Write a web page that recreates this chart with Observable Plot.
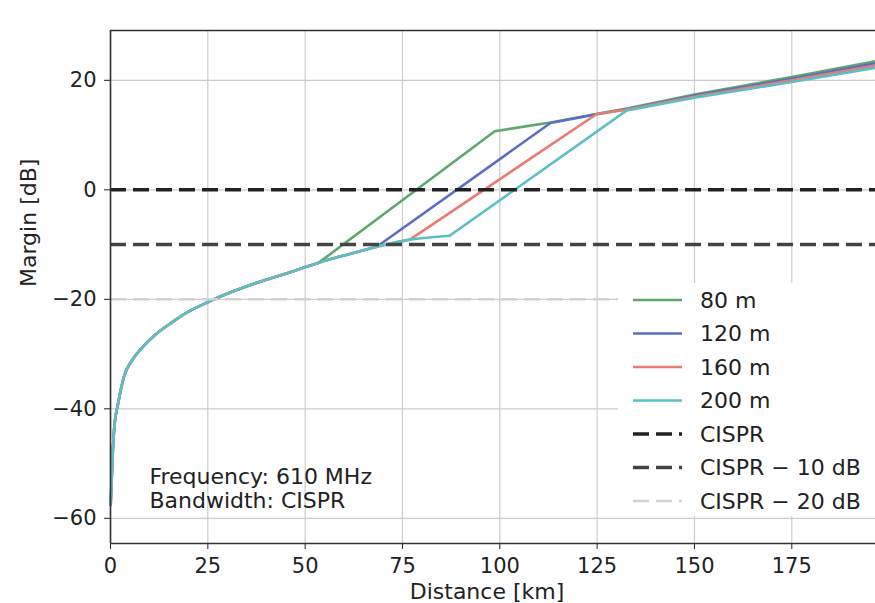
<!DOCTYPE html>
<html>
<head>
<meta charset="utf-8">
<script src="https://cdn.jsdelivr.net/npm/d3@7"></script>
<script src="https://cdn.jsdelivr.net/npm/@observablehq/plot@0.6"></script>
<style>
  body { margin: 0; background: #fff; font-family: "DejaVu Sans", sans-serif; }
  #wrap { position: relative; width: 875px; height: 603px; overflow: hidden; background: #fff; }
  #legend { position: absolute; left: 618px; top: 283px; }
</style>
</head>
<body>
<div id="wrap"></div>
<script>
// ---- data ----
const xTicks = [0, 25, 50, 75, 100, 125, 150, 175];
const yTicks = [-60, -40, -20, 0, 20];

// common lower curve (all heights follow it until they depart)
const lowDist   = [0.05, 0.18, 0.59, 1.03, 1.88, 3.6, 5.3, 7.9, 11.3, 15.6, 19.9, 24.2, 28.5, 35, 41, 46.8, 53.5, 61, 68.4, 76.9, 82, 87.1];
const lowMargin = [-57.5, -55, -47.8, -42.9, -39.3, -33.8, -31.4, -29.0, -26.6, -24.3, -22.3, -20.8, -19.4, -17.6, -16.2, -14.9, -13.3, -11.8, -10.4, -9.1, -8.7, -8.4];

// distance at which each height leaves the common curve
const heights   = ["80 m", "120 m", "160 m", "200 m"];
const departAt  = [53.5, 68.4, 76.9, 87.1];

// upper parts of each curve
const up80Dist  = [98.7, 113, 125, 133, 150, 175, 196.5];
const up80      = [10.7, 12.3, 13.9, 14.9, 17.4, 20.6, 23.5];
const up120Dist = [113, 125, 133, 150, 175, 196.5];
const up120     = [12.2, 13.8, 14.8, 17.2, 20.3, 23.1];
const up160Dist = [124.9, 133, 150, 175, 196.5];
const up160     = [13.85, 14.7, 17.0, 20.0, 22.7];
const up200Dist = [132.6, 150, 175, 196.5];
const up200     = [14.5, 16.8, 19.7, 22.3];

const cisprLevels = [0, -10, -20];
const cisprLabels = ["CISPR", "CISPR \u2212 10 dB", "CISPR \u2212 20 dB"];
const seriesColors = ["#5ea86c", "#5b6fc2", "#e77d72", "#5bbfc6"];
const cisprColors  = ["#222222", "#444444", "#d2d2d2"];

// ---- build rows ----
const upDists = [up80Dist, up120Dist, up160Dist, up200Dist];
const upVals  = [up80, up120, up160, up200];
const lowerParts = heights.map((h, i) =>
  lowDist.map((d, j) => ({d, m: lowMargin[j]})).filter(r => r.d <= departAt[i]));
const upperParts = heights.map((h, i) => {
  const start = lowerParts[i][lowerParts[i].length - 1];
  return [start, ...upDists[i].map((d, j) => ({d, m: upVals[i][j]}))];
});

const yMin = -64.6, yMax = 29.1;
const FS = 22;

const seriesMarks = [];
heights.forEach((h, i) => {
  seriesMarks.push(Plot.line(lowerParts[i], {x: "d", y: "m", stroke: seriesColors[i], strokeWidth: 2.6, curve: "monotone-x"}));
  seriesMarks.push(Plot.line(upperParts[i], {x: "d", y: "m", stroke: seriesColors[i], strokeWidth: 2.6}));
});

const chart = Plot.plot({
  width: 875, height: 603,
  marginLeft: 110, marginRight: 0, marginTop: 30, marginBottom: 60,
  x: {domain: [0, 196.5]},
  y: {domain: [yMin, yMax]},
  style: {fontFamily: "DejaVu Sans", fontSize: "21px", color: "#222", background: "#fff", overflow: "visible"},
  marks: [
    Plot.gridX(xTicks, {stroke: "#cccccc", strokeOpacity: 1, strokeWidth: 1.2}),
    Plot.gridY(yTicks, {stroke: "#cccccc", strokeOpacity: 1, strokeWidth: 1.2}),
    ...seriesMarks,
    ...cisprLevels.map((v, i) => Plot.ruleY([v], {
      stroke: cisprColors[i], strokeWidth: i === 2 ? 2.5 : 3.5, strokeDasharray: "16,7"
    })),
    Plot.axisX(xTicks, {tickSize: 6, tickPadding: 9, label: null, fontSize: 21}),
    Plot.axisY(yTicks, {tickSize: 6, tickPadding: 8, label: null, fontSize: 21}),
    Plot.ruleX([0], {stroke: "#333", strokeWidth: 1.6}),
    Plot.ruleY([yMin, yMax], {stroke: "#333", strokeWidth: 1.6}),
    Plot.text(["Frequency: 610 MHz\nBandwidth: CISPR"], {
      x: 10, y: -54.5, textAnchor: "start", lineAnchor: "middle", fontSize: FS, lineHeight: 1.1, fill: "#222"
    }),
    Plot.text(["Margin [dB]"], {frameAnchor: "left", dx: -82, rotate: -90, fontSize: FS, fill: "#222"}),
    Plot.text(["Distance [km]"], {frameAnchor: "bottom", lineAnchor: "middle", dx: -6, dy: 48, fontSize: FS, fill: "#222"})
  ]
});

const wrap = document.getElementById("wrap");
wrap.appendChild(chart);

// ---- legend (overlay inside the plot, white background) ----
const legendLabels = [...heights, ...cisprLabels];
const legendColors = [...seriesColors, ...cisprColors];
const lg = d3.select(wrap).append("svg")
  .attr("id", "legend").attr("width", 260).attr("height", 233)
  .style("font-family", "DejaVu Sans").style("font-size", FS + "px");
lg.append("rect").attr("width", 260).attr("height", 233).attr("fill", "#fff");
legendLabels.forEach((lab, i) => {
  const cy = 17 + i * 33.5;
  const dashed = i >= 4;
  lg.append("line")
    .attr("x1", 15).attr("x2", 64).attr("y1", cy).attr("y2", cy)
    .attr("stroke", legendColors[i])
    .attr("stroke-width", dashed ? (i === 6 ? 2.5 : 3.5) : 2.6)
    .attr("stroke-dasharray", dashed ? "16,7" : null);
  lg.append("text").attr("x", 82).attr("y", cy).attr("dy", "0.35em")
    .attr("fill", "#222").text(lab);
});
</script>
</body>
</html>
